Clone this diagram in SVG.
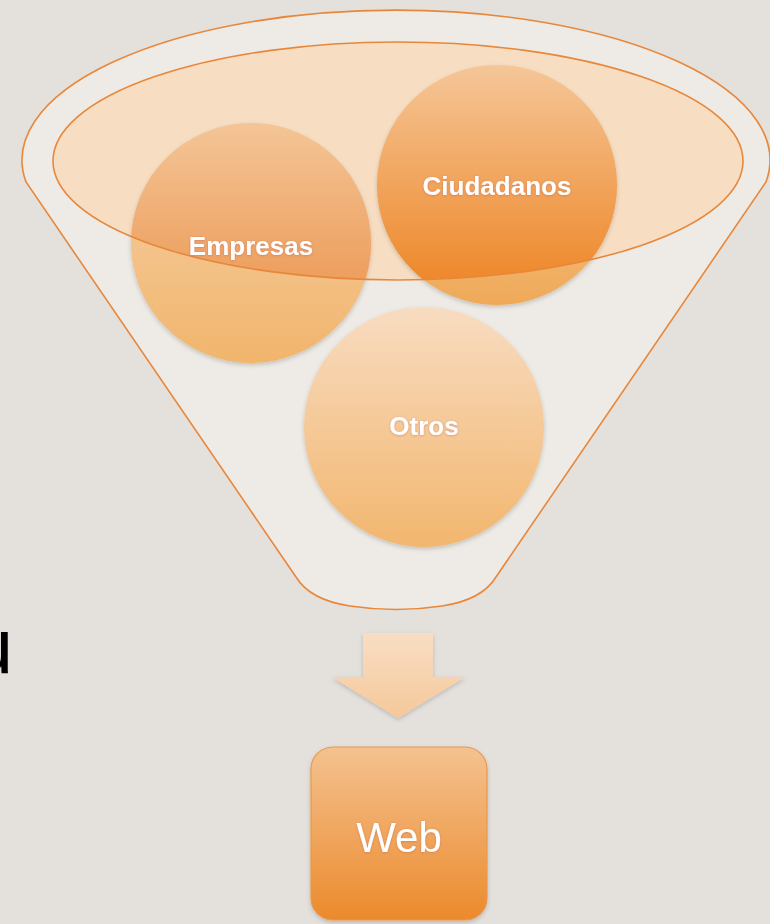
<svg xmlns="http://www.w3.org/2000/svg" width="770" height="924" viewBox="0 0 770 924">
  <style>
    .lbl { font-family: "Liberation Sans", Arial, sans-serif; font-weight: bold; fill: #ffffff; text-anchor: middle; }
    .edge { fill: none; stroke: #e8873a; stroke-width: 1.6; }
  </style>
  <defs>
    <linearGradient id="gEmpOut" x1="0" y1="0" x2="0" y2="1">
      <stop offset="0" stop-color="#f6d2ac"/>
      <stop offset="1" stop-color="#f1b56c"/>
    </linearGradient>
    <linearGradient id="gEmpIn" x1="0" y1="0" x2="0" y2="1">
      <stop offset="0" stop-color="#f4c596"/>
      <stop offset="0.63" stop-color="#eda060"/>
      <stop offset="1" stop-color="#eb9048"/>
    </linearGradient>
    <linearGradient id="gCiuOut" x1="0" y1="0" x2="0" y2="1">
      <stop offset="0" stop-color="#f7d6b0"/>
      <stop offset="1" stop-color="#efa958"/>
    </linearGradient>
    <linearGradient id="gCiuIn" x1="0" y1="0" x2="0" y2="1">
      <stop offset="0" stop-color="#f5c698"/>
      <stop offset="0.875" stop-color="#ee8a2e"/>
      <stop offset="1" stop-color="#ed8428"/>
    </linearGradient>
    <linearGradient id="gOtros" x1="0" y1="0" x2="0" y2="1">
      <stop offset="0" stop-color="#f8dcc1"/>
      <stop offset="1" stop-color="#f2b66e"/>
    </linearGradient>
    <linearGradient id="gWeb" x1="0" y1="0" x2="0" y2="1">
      <stop offset="0" stop-color="#f4c290"/>
      <stop offset="1" stop-color="#ec8a2c"/>
    </linearGradient>
    <linearGradient id="gArrow" x1="0" y1="0" x2="0" y2="1">
      <stop offset="0" stop-color="#f9dec4"/>
      <stop offset="1" stop-color="#f5c89a"/>
    </linearGradient>
    <clipPath id="clipEll">
      <ellipse cx="398" cy="161" rx="345" ry="119"/>
    </clipPath>
    <filter id="shadow" x="-10%" y="-10%" width="120%" height="125%">
      <feDropShadow dx="0" dy="2" stdDeviation="2" flood-color="#000000" flood-opacity="0.18"/>
    </filter>
    <filter id="tglow" x="-10%" y="-20%" width="120%" height="140%">
      <feDropShadow dx="0" dy="0.5" stdDeviation="0.8" flood-color="#a0405a" flood-opacity="0.4"/>
    </filter>
  </defs>

  <rect x="0" y="0" width="770" height="924" fill="#e4e0dc"/>

  <text x="13" y="673" font-family="Liberation Sans, Arial, sans-serif" font-size="77" fill="#000000" text-anchor="end">u</text>

  <g id="funnel">
    <path d="M 26,182 A 374,150 0 1 1 766,182 L 496,577 Q 482,600 442,606 Q 396,613 350,606 Q 310,600 296,577 Z" fill="#eeebe6" stroke="#e8873a" stroke-width="1.6"/>
    <ellipse cx="398" cy="161" rx="345" ry="119" fill="#f7dec3"/>
  </g>

  <g id="empresas">
    <circle cx="251" cy="243" r="120" fill="url(#gEmpOut)" filter="url(#shadow)"/>
    <circle cx="251" cy="243" r="120" fill="url(#gEmpIn)" clip-path="url(#clipEll)"/>
  </g>

  <g id="ciudadanos">
    <circle cx="497" cy="185" r="120" fill="url(#gCiuOut)" filter="url(#shadow)"/>
    <circle cx="497" cy="185" r="120" fill="url(#gCiuIn)" clip-path="url(#clipEll)"/>
  </g>

  <g id="otros">
    <circle cx="424" cy="427" r="120" fill="url(#gOtros)" filter="url(#shadow)"/>
  </g>

  <g id="funnel-rim">
    <ellipse class="edge" cx="398" cy="161" rx="345" ry="119"/>
  </g>

  <g id="labels">
    <text class="lbl" x="251" y="255" font-size="26" filter="url(#tglow)">Empresas</text>
    <text class="lbl" x="497" y="195" font-size="26" filter="url(#tglow)">Ciudadanos</text>
    <text class="lbl" x="424" y="435" font-size="26" filter="url(#tglow)">Otros</text>
  </g>

  <g id="connectors">
    <path d="M 363,633 L 433,633 L 433,677 L 465,677 L 398,718 L 332,677 L 363,677 Z" fill="url(#gArrow)" filter="url(#shadow)"/>
  </g>

  <g id="web">
    <rect x="311" y="747" width="176" height="173" rx="22" ry="22" fill="url(#gWeb)" stroke="#e9984c" stroke-width="1.2" filter="url(#shadow)"/>
    <text class="lbl" x="399" y="852" font-size="42" font-weight="normal" style="font-weight:normal" filter="url(#tglow)">Web</text>
  </g>
</svg>
